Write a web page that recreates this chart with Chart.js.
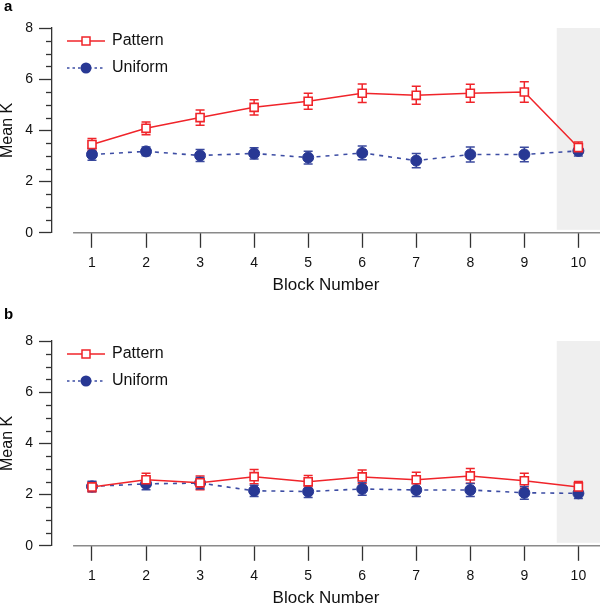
<!DOCTYPE html>
<html><head><meta charset="utf-8">
<script src="https://cdn.jsdelivr.net/npm/chart.js@4.4.1/dist/chart.umd.min.js"></script>
<style>
html,body{margin:0;padding:0;background:#fff;overflow:hidden;width:600px;height:606px}
.p{position:absolute;left:0;width:600px}
</style></head><body>
<div class="p" style="top:0;height:303px"><canvas id="ca" width="600" height="303"></canvas></div>
<div class="p" style="top:303px;height:313px"><canvas id="cb" width="600" height="313"></canvas></div>
<script>
// ---- data ----
const blocks = [1, 2, 3, 4, 5, 6, 7, 8, 9, 10];
const yMajorTicks = [0, 2, 4, 6, 8];
const seriesNames = ['Pattern', 'Uniform'];
const patternA    = [3.45, 4.08, 4.50, 4.90, 5.14, 5.45, 5.37, 5.45, 5.50, 3.33];
const patternAErr = [0.23, 0.25, 0.30, 0.30, 0.31, 0.36, 0.35, 0.35, 0.40, 0.22];
const uniformA    = [3.06, 3.18, 3.02, 3.10, 2.94, 3.12, 2.82, 3.06, 3.06, 3.20];
const uniformAErr = [0.23, 0.17, 0.23, 0.22, 0.25, 0.27, 0.28, 0.29, 0.28, 0.20];
const patternB    = [2.30, 2.58, 2.46, 2.70, 2.50, 2.69, 2.58, 2.73, 2.54, 2.30];
const patternBErr = [0.20, 0.25, 0.27, 0.28, 0.25, 0.27, 0.29, 0.29, 0.29, 0.21];
const uniformB    = [2.32, 2.42, 2.45, 2.15, 2.12, 2.22, 2.18, 2.18, 2.07, 2.05];
const uniformBErr = [0.20, 0.23, 0.22, 0.22, 0.23, 0.25, 0.25, 0.25, 0.25, 0.20];
const shadedFrom = 9.6;

const FONT = '"Liberation Sans", Arial, Helvetica, sans-serif';
const RED = '#f0242a';
const NAVY = '#283894';
const NAVY_LINE = '#3d4da4';

function sample(kind) {
  const c = document.createElement('canvas');
  c.width = 38; c.height = 14;
  const g = c.getContext('2d');
  if (kind === 0) {
    g.strokeStyle = RED; g.lineWidth = 1.5;
    g.beginPath(); g.moveTo(0, 7); g.lineTo(38, 7); g.stroke();
    g.fillStyle = '#fff'; g.fillRect(15, 3, 8, 8);
    g.strokeRect(15, 3, 8, 8);
  } else {
    g.strokeStyle = NAVY_LINE; g.lineWidth = 1.5; g.setLineDash([2.5, 3]);
    g.beginPath(); g.moveTo(0, 7); g.lineTo(36, 7); g.stroke();
    g.fillStyle = NAVY; g.beginPath(); g.arc(19, 7, 5.5, 0, Math.PI * 2); g.fill();
  }
  return c;
}
const samples = [sample(0), sample(1)];

const panelPlugin = {
  id: 'panel',
  beforeDraw(chart) {
    const {ctx, chartArea: ca, scales: {x, y}} = chart;
    ctx.save();
    ctx.fillStyle = '#efefef';
    const x0 = x.getPixelForValue(shadedFrom);
    const y0 = y.getPixelForValue(8);
    ctx.fillRect(x0, y0, ca.right - x0, ca.bottom - 3 - y0);
    ctx.restore();
  },
  beforeDatasetsDraw(chart, args, opts) {
    const {ctx, scales: {x, y}} = chart;
    ctx.save();
    chart.data.datasets.forEach((ds, di) => {
      const err = opts.errors[di];
      ctx.strokeStyle = di === 0 ? RED : '#3b4a9e';
      ctx.lineWidth = 1.5;
      ds.data.forEach((p, i) => {
        const px = x.getPixelForValue(p.x);
        const top = y.getPixelForValue(p.y + err[i]);
        const bot = y.getPixelForValue(p.y - err[i]);
        ctx.beginPath();
        ctx.moveTo(px, top); ctx.lineTo(px, bot);
        ctx.moveTo(px - 4.5, top); ctx.lineTo(px + 4.5, top);
        ctx.moveTo(px - 4.5, bot); ctx.lineTo(px + 4.5, bot);
        ctx.stroke();
      });
    });
    ctx.restore();
  },
  afterLayout(chart) {
    chart.legend.left = chart.chartArea.left + 5;
    chart.legend.top = chart.chartArea.top - 6;
  },
  afterDraw(chart, args, opts) {
    const {ctx, chartArea: ca, scales: {x, y}} = chart;
    ctx.save();
    // x axis line (offset from y axis)
    ctx.strokeStyle = '#8a8a8a'; ctx.lineWidth = 1.5;
    ctx.beginPath();
    ctx.moveTo(x.getPixelForValue(0.65), ca.bottom);
    ctx.lineTo(ca.right, ca.bottom);
    ctx.stroke();
    // minor y ticks
    ctx.strokeStyle = '#333'; ctx.lineWidth = 1.3;
    for (let v = 0.5; v < 8; v += 0.5) {
      if (yMajorTicks.includes(v)) continue;
      const py = Math.round(y.getPixelForValue(v)) + 0.5;
      ctx.beginPath(); ctx.moveTo(ca.left - 6, py); ctx.lineTo(ca.left, py); ctx.stroke();
    }
    // panel letter
    ctx.fillStyle = '#000';
    ctx.font = 'bold 15px ' + FONT;
    ctx.textBaseline = 'alphabetic';
    ctx.fillText(opts.letter, 4, opts.letterY);
    ctx.restore();
  }
};

function makeChart(id, pattern, pErr, uniform, uErr, letter, letterY, padTop) {
  const toPts = arr => blocks.map((b, i) => ({x: b, y: arr[i]}));
  return new Chart(document.getElementById(id), {
    type: 'line',
    data: {
      datasets: [
        {label: seriesNames[0], data: toPts(pattern), order: 0,
         borderColor: RED, borderWidth: 1.5, pointStyle: 'rect', pointRadius: 5.7,
         pointBackgroundColor: '#fff', pointBorderColor: RED, pointBorderWidth: 1.6, tension: 0},
        {label: seriesNames[1], data: toPts(uniform), order: 1,
         borderColor: NAVY_LINE, borderWidth: 1.6, borderDash: [4, 5], pointStyle: 'circle', pointRadius: 5.5,
         pointBackgroundColor: NAVY, pointBorderColor: NAVY, pointBorderWidth: 1, tension: 0}
      ]
    },
    options: {
      responsive: false, animation: false,
      layout: {autoPadding: false, padding: {top: padTop, bottom: 7, left: 0, right: 0}},
      plugins: {
        tooltip: {enabled: false},
        legend: {
          position: 'chartArea', align: 'start',
          labels: {
            usePointStyle: true, pointStyleWidth: 36, padding: 11, color: '#111',
            font: {size: 16, family: FONT},
            generateLabels: () => seriesNames.map((n, i) => ({
              text: n, pointStyle: samples[i], datasetIndex: i, hidden: false,
              fillStyle: 'transparent', strokeStyle: 'transparent', lineWidth: 0, fontColor: '#111'
            }))
          }
        },
        panel: {errors: [pErr, uErr], letter, letterY}
      },
      scales: {
        x: {
          type: 'linear', min: 0.26, max: 10.4,
          afterBuildTicks: s => { s.ticks = blocks.map(v => ({value: v})); },
          grid: {drawOnChartArea: false, tickLength: 15, tickColor: '#333', tickWidth: 1.3},
          border: {display: false},
          ticks: {color: '#111', padding: 7, font: {size: 14, family: FONT}, maxRotation: 0, autoSkip: false},
          title: {display: true, text: 'Block Number', color: '#111',
                  font: {size: 17, family: FONT, lineHeight: 1.2}, padding: {top: -3, bottom: 0}}
        },
        y: {
          min: 0, max: 8,
          afterBuildTicks: s => { s.ticks = yMajorTicks.map(v => ({value: v})); },
          afterFit: s => { s.width = 52; },
          grid: {drawOnChartArea: false, tickLength: 13, tickColor: '#333', tickWidth: 1.3},
          border: {display: true, color: '#333', width: 1.3},
          ticks: {color: '#111', padding: 6, font: {size: 14, family: FONT}},
          title: {display: true, text: 'Mean K', color: '#111',
                  font: {size: 16, family: FONT, lineHeight: 1}, padding: 0}
        }
      }
    },
    plugins: [panelPlugin]
  });
}

makeChart('ca', patternA, patternAErr, uniformA, uniformAErr, 'a', 11, 28);
makeChart('cb', patternB, patternBErr, uniformB, uniformBErr, 'b', 16, 38);
</script>
</body></html>
